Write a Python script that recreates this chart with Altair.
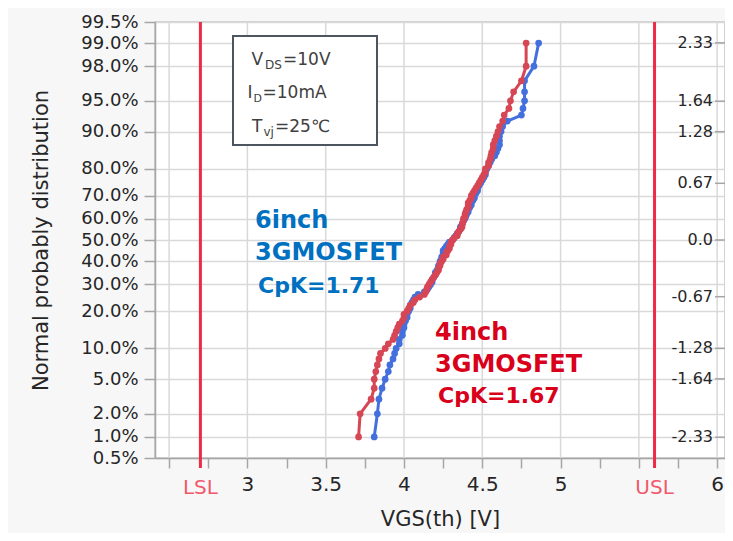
import json
from statistics import NormalDist
import altair as alt
import pandas as pd

FONT = "DejaVu Sans"
W, H = 570, 436
nd = NormalDist()

# ---- data (VGS(th) values, sorted) ----
vgs_4inch = [3.71, 3.72, 3.79, 3.81, 3.81, 3.82, 3.83, 3.84, 3.85, 3.88,
             3.90, 3.93, 3.94, 3.95, 3.96, 3.97, 3.99, 4.00, 4.00, 4.02,
             4.03, 4.04, 4.06, 4.07, 4.10, 4.13, 4.14, 4.145, 4.15, 4.16,
             4.17, 4.18, 4.19, 4.20, 4.21, 4.22, 4.22, 4.23, 4.23, 4.24,
             4.25, 4.25, 4.27, 4.27, 4.28, 4.29, 4.29, 4.30, 4.30, 4.31,
             4.32, 4.34, 4.34, 4.35, 4.36, 4.37, 4.37, 4.375, 4.38, 4.38,
             4.39, 4.39, 4.395, 4.40, 4.41, 4.41, 4.41, 4.42, 4.43, 4.43,
             4.44, 4.45, 4.46, 4.47, 4.48, 4.49, 4.50, 4.51, 4.52, 4.52,
             4.54, 4.54, 4.55, 4.555, 4.56, 4.57, 4.57, 4.58, 4.59, 4.60,
             4.61, 4.63, 4.64, 4.67, 4.68, 4.70, 4.75, 4.78, 4.78]

vgs_6inch = [3.81, 3.83, 3.84, 3.86, 3.88, 3.90, 3.91, 3.93, 3.94, 3.95,
             3.97, 3.97, 3.99, 3.99, 4.00, 4.00, 4.01, 4.02, 4.02, 4.03,
             4.04, 4.04, 4.05, 4.06, 4.07, 4.09, 4.13, 4.15, 4.16, 4.17,
             4.18, 4.18, 4.19, 4.20, 4.20, 4.21, 4.22, 4.22, 4.23, 4.23,
             4.24, 4.24, 4.25, 4.25, 4.25, 4.26, 4.27, 4.28, 4.29, 4.31,
             4.32, 4.33, 4.34, 4.35, 4.36, 4.36, 4.37, 4.375, 4.38, 4.39,
             4.395, 4.40, 4.41, 4.41, 4.42, 4.43, 4.43, 4.44, 4.45, 4.45,
             4.46, 4.47, 4.47, 4.48, 4.49, 4.50, 4.51, 4.52, 4.52, 4.53,
             4.54, 4.55, 4.56, 4.58, 4.59, 4.60, 4.61, 4.61, 4.61, 4.62,
             4.63, 4.66, 4.75, 4.76, 4.77, 4.77, 4.77, 4.83, 4.86]

series_names = ["6inch", "4inch"]
series_colors = ["#4470DE", "#D74655"]

spec_names = ["LSL", "USL"]
spec_values = [2.7, 5.6]

pct_ticks = [0.5, 1, 2, 5, 10, 20, 30, 40, 50, 60, 70, 80, 90, 95, 98, 99, 99.5]
pct_labels = [f"{p:.1f}%" for p in pct_ticks]

right_z = [2.33, 1.64, 1.28, 0.67, 0.0, -0.67, -1.28, -1.64, -2.33]
right_labels = ["2.33", "1.64", "1.28", "0.67", "0.0", "-0.67", "-1.28", "-1.64", "-2.33"]

x_ticks = [2.5, 2.75, 3.0, 3.25, 3.5, 3.75, 4.0, 4.25, 4.5, 4.75, 5.0, 5.25, 5.5, 5.75, 6.0]
x_grid = [2.5, 3.0, 3.5, 4.0, 4.5, 5.0, 5.5, 6.0]
x_labelled = [3, 3.5, 4, 4.5, 5, 6]

# ---- build tables (normal probability plotting positions i/(n+1)) ----
rows = []
for name, vals in zip(series_names, [vgs_6inch, vgs_4inch]):
    n = len(vals)
    for i, v in enumerate(sorted(vals), start=1):
        rows.append({"series": name, "vgs": v, "z": nd.inv_cdf(i / (n + 1)), "rank": i})
df = pd.DataFrame(rows)

z_ticks = [round(nd.inv_cdf(p / 100), 5) for p in pct_ticks]
zmax = z_ticks[-1]

xscale = alt.Scale(domain=[2.41, 6.05], nice=False, zero=False)
yscale = alt.Scale(domain=[-zmax, zmax], nice=False, zero=False)
cscale = alt.Scale(domain=series_names, range=series_colors)

x_label_expr = f"indexof({json.dumps(x_labelled)}, datum.value) >= 0 ? '' + datum.value : ''"
y_label_expr = f"{json.dumps(pct_labels)}[indexof({json.dumps(z_ticks)}, datum.value)]"

AX = "#a6a6a6"
TXT = "#262626"

xaxis = alt.Axis(values=x_ticks, labelExpr=x_label_expr, grid=False, tickSize=10,
                 tickColor=AX, tickWidth=1.5, domainColor=AX, domainWidth=1.5,
                 labelFontSize=20, labelColor=TXT, labelPadding=6, labelFont=FONT,
                 labelFlush=False, labelOverlap=False,
                 title="VGS(th) [V]", titleFontSize=21, titleFontWeight="normal",
                 titleColor=TXT, titleFont=FONT, titlePadding=14)
yaxis = alt.Axis(values=z_ticks, labelExpr=y_label_expr, grid=True, gridColor="#d9d9d9",
                 gridWidth=1.5, tickSize=11, tickColor=AX, tickWidth=1.5,
                 domainColor=AX, domainWidth=1.5, labelFontSize=18, labelColor=TXT,
                 labelPadding=6, labelFont=FONT, labelFlush=False, labelOverlap=False,
                 title="Normal probably distribution", titleFontSize=21,
                 titleFontWeight="normal", titleColor=TXT, titleFont=FONT, titlePadding=29)

one = pd.DataFrame({"a": [0]})

grid = alt.Chart(pd.DataFrame({"v": x_grid})).mark_rule(color="#d9d9d9", strokeWidth=1.5).encode(
    x=alt.X("v:Q", scale=xscale, axis=xaxis), y=alt.value(0), y2=alt.value(H))

spec_df = pd.DataFrame({"name": spec_names, "v": spec_values})
spec_rule = alt.Chart(spec_df).mark_rule(color="#EE2B47", strokeWidth=3).encode(
    x=alt.X("v:Q", scale=xscale, axis=xaxis), y=alt.value(0), y2=alt.value(H + 10))
spec_text = alt.Chart(spec_df).mark_text(fontSize=20, color="#F2586C", font=FONT,
                                         baseline="middle", align="center").encode(
    x=alt.X("v:Q", scale=xscale, axis=xaxis), y=alt.value(H + 30), text="name:N")

layers = [grid, spec_rule, spec_text]
for name in series_names:
    base = alt.Chart(df).transform_filter(alt.datum.series == name)
    enc = dict(x=alt.X("vgs:Q", scale=xscale, axis=xaxis),
               y=alt.Y("z:Q", scale=yscale, axis=yaxis),
               color=alt.Color("series:N", scale=cscale, legend=None))
    layers.append(base.mark_line(strokeWidth=3).encode(order="rank:Q", **enc))
    layers.append(base.mark_circle(size=45, opacity=1).encode(**enc))

rdf = pd.DataFrame({"z": right_z, "label": right_labels})
right_ticks = alt.Chart(rdf).mark_rule(color=AX, strokeWidth=1.5).encode(
    x=alt.value(W - 10), x2=alt.value(W), y=alt.Y("z:Q", scale=yscale, axis=yaxis))
right_text = alt.Chart(rdf).mark_text(fontSize=16, color=TXT, font=FONT, align="right",
                                      baseline="middle").encode(
    x=alt.value(W - 12), y=alt.Y("z:Q", scale=yscale, axis=yaxis), text="label:N")
layers += [right_ticks, right_text]

box = alt.Chart(one).mark_rect(fill="white", stroke="#4d5560", strokeWidth=2).encode(
    x=alt.value(78), x2=alt.value(222), y=alt.value(14), y2=alt.value(123))
layers.append(box)


def label(text, x, y, size, color, weight="normal"):
    return alt.Chart(one).mark_text(text=text, align="left", baseline="alphabetic",
                                    fontSize=size, color=color, fontWeight=weight,
                                    font=FONT).encode(x=alt.value(x), y=alt.value(y))


BOXC = "#404040"
layers += [
    label("V", 96.5, 43, 17, BOXC), label("DS", 110, 47, 12, BOXC), label("=10V", 128, 43, 17, BOXC),
    label("I", 92.5, 76, 17, BOXC), label("D", 98.5, 80, 11, BOXC), label("=10mA", 107.5, 76, 17, BOXC),
    label("T", 97, 110, 17, BOXC), label("vj", 108.5, 114, 12, BOXC), label("=25℃", 120, 110, 17, BOXC),
]

BLUE = "#0070C0"
RED = "#D9001B"
layers += [
    label("6inch", 100, 206, 24, BLUE, "bold"),
    label("3GMOSFET", 100, 238, 24, BLUE, "bold"),
    label("CpK=1.71", 103, 271, 22, BLUE, "bold"),
    label("4inch", 280, 318, 24, RED, "bold"),
    label("3GMOSFET", 280, 350, 24, RED, "bold"),
    label("CpK=1.67", 283, 381, 22, RED, "bold"),
]

chart = alt.layer(*layers).properties(
    width=W, height=H,
    padding={"left": 147, "top": 14, "right": 0, "bottom": 75},
    autosize=alt.AutoSizeParams(type="none"),
).configure(background="#f7f7f7", font=FONT).configure_view(
    fill="white", stroke="#c4c4c4", strokeWidth=1.5)

chart.save("out.html", embed_options={"renderer": "svg", "actions": False})
